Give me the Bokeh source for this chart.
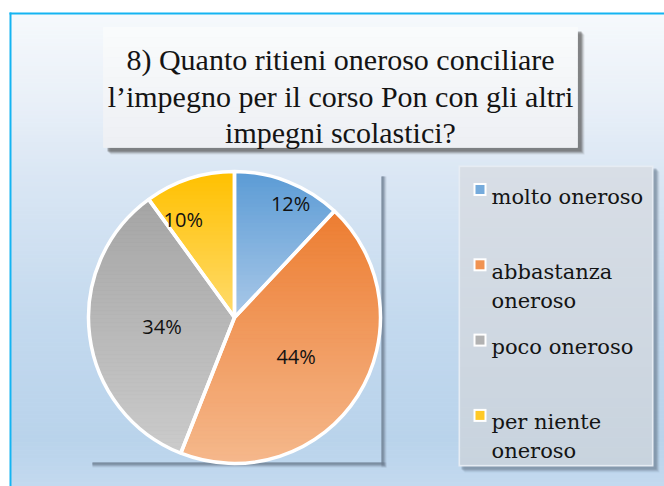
import math
import numpy as np
from bokeh.plotting import figure
from bokeh.models import Range1d, Label
from bokeh.core.properties import value
from bokeh.embed import file_html
from bokeh.resources import INLINE

# ---------------- data ----------------
categories = ["molto oneroso", "abbastanza oneroso", "poco oneroso", "per niente oneroso"]
legend_labels = ["molto oneroso", "abbastanza\noneroso", "poco oneroso", "per niente\noneroso"]
values = [12, 44, 34, 10]
title_lines = ["8) Quanto ritieni oneroso conciliare",
               "l\u2019impegno per il corso Pon con gli altri",
               "impegni scolastici?"]

# ---------------- styles ----------------
top_colors = ["#5b9bd5", "#ed7d31", "#a5a5a5", "#ffc000"]
bottom_colors = ["#a9c8e8", "#f5b88c", "#cbcbcb", "#ffdb6d"]
label_r_frac = [0.87, 0.5, 0.5, 0.76]
label_angle_shift_deg = [-4.6, 0.0, 0.0, 9.5]

W, H = 664, 486


def X(px):
    return px


def Y(py):
    return H - py


def hex2rgb(h):
    h = h.lstrip("#")
    return tuple(int(h[i:i + 2], 16) for i in (0, 2, 4))


def mix(c1, c2, t):
    a, b = hex2rgb(c1), hex2rgb(c2)
    return "#%02x%02x%02x" % tuple(int(round(a[i] + (b[i] - a[i]) * t)) for i in range(3))


def interp_stops(stops, yv):
    for (y0, c0), (y1, c1) in zip(stops[:-1], stops[1:]):
        if y0 <= yv <= y1:
            return mix(c0, c1, (yv - y0) / (y1 - y0))
    return stops[-1][1] if yv > stops[-1][0] else stops[0][1]


p = figure(width=W, height=H, x_range=Range1d(0, W), y_range=Range1d(0, H),
           output_backend="svg", toolbar_location=None, min_border=0,
           x_axis_type=None, y_axis_type=None)
p.outline_line_color = None

# ---------------- background gradient ----------------
bg_stops = [(12, "#f6f9fc"), (100, "#e9f0f8"), (170, "#dbe7f4"), (320, "#c3d9ee"),
            (440, "#b9d3eb"), (486, "#c3d9ef")]
ys = np.arange(14, 486, 4)
bgc = [interp_stops(bg_stops, v + 2) for v in ys]
p.quad(left=X(11), right=W, top=[Y(v) for v in ys], bottom=[Y(v + 4) for v in ys],
       fill_color=bgc, line_color=bgc, line_width=0.8)

# blue frame
p.quad(left=[X(9), X(9)], right=[X(11), W], top=[Y(12), Y(12)], bottom=[0, Y(14)],
       fill_color="#14b4f2", line_color=None)

# ---------------- title box ----------------
tb = dict(l=103, r=577, t=27, b=147)
offs = [7, 6, 5, 4]
p.quad(left=[X(tb["l"] + o) for o in offs], right=[X(tb["r"] + o) for o in offs],
       top=[Y(tb["t"] + o) for o in offs], bottom=[Y(tb["b"] + o) for o in offs],
       fill_color="#5a5a5a", fill_alpha=[0.12, 0.2, 0.3, 0.45], line_color=None)
tys = np.arange(tb["t"], tb["b"], 10)
tstops = [(tb["t"], "#fafbfc"), (tb["b"], "#edf0f4")]
tbc = [interp_stops(tstops, v + 5) for v in tys]
p.quad(left=X(tb["l"]), right=X(tb["r"]), top=[Y(v) for v in tys], bottom=[Y(v + 10) for v in tys],
       fill_color=tbc, line_color=tbc, line_width=0.8)
title_base = [59, 95.5, 132]
for line, b in zip(title_lines, title_base):
    p.add_layout(Label(x=X((tb["l"] + tb["r"]) / 2), y=Y(b), text=line,
                       text_font="Liberation Serif", text_font_size="30px", text_align="center",
                       text_baseline="alphabetic", text_color="#141414"))

# ---------------- plot area shadow ----------------
pa = dict(l=88, r=381, t=172, b=462)
ws = [5, 4, 3, 2]
al = [0.15, 0.25, 0.4, 0.55]
p.quad(left=[X(pa["r"])] * 4 + [X(pa["l"] + 4)] * 4,
       right=[X(pa["r"] + w) for w in ws] * 2,
       top=[Y(pa["t"] + 4)] * 4 + [Y(pa["b"])] * 4,
       bottom=[Y(pa["b"] + w) for w in ws] * 2,
       fill_color="#6f7f92", fill_alpha=al * 2, line_color=None)

# ---------------- pie ----------------
cx, cy, R = X(234), Y(317), 146.0
total = float(sum(values))
fracs = [v / total for v in values]
cum = np.concatenate([[0.0], np.cumsum(fracs)])
start_ang = [math.pi / 2 - 2 * math.pi * cum[i + 1] for i in range(len(values))]
end_ang = [math.pi / 2 - 2 * math.pi * cum[i] for i in range(len(values))]

p.wedge(x=cx, y=cy, radius=R, start_angle=start_ang, end_angle=end_ang,
        fill_color=top_colors, line_color=None)


def clip(poly, y0, keep_above):
    out = []
    n = len(poly)
    for i in range(n):
        a, b = poly[i], poly[(i + 1) % n]
        ina = a[1] >= y0 if keep_above else a[1] <= y0
        inb = b[1] >= y0 if keep_above else b[1] <= y0
        if ina:
            out.append(a)
        if ina != inb:
            t = (y0 - a[1]) / (b[1] - a[1])
            out.append((a[0] + t * (b[0] - a[0]), y0))
    return out


band_xs, band_ys, band_cols = [], [], []
for i in range(len(values)):
    th = np.linspace(end_ang[i], start_ang[i], 90)
    poly = [(cx, cy)] + [(cx + R * math.cos(t), cy + R * math.sin(t)) for t in th]
    ymin = min(q[1] for q in poly)
    ymax = max(q[1] for q in poly)
    yb = ymax
    step = 4.0
    while yb > ymin:
        y_lo = max(yb - step, ymin)
        piece = clip(clip(poly, y_lo, True), yb, False)
        if len(piece) >= 3:
            t = (ymax - (yb + y_lo) / 2) / (ymax - ymin)
            col = mix(top_colors[i], bottom_colors[i], t)
            band_xs.append([round(q[0], 1) for q in piece])
            band_ys.append([round(q[1], 1) for q in piece])
            band_cols.append(col)
        yb = y_lo
p.patches(xs=band_xs, ys=band_ys, fill_color=band_cols, line_color=band_cols, line_width=0.8)

# white separators
p.wedge(x=cx, y=cy, radius=R, start_angle=start_ang, end_angle=end_ang,
        fill_alpha=0, line_color="white", line_width=3.5)

# percentage labels
lx, ly, lt = [], [], []
for i, v in enumerate(values):
    mid = (start_ang[i] + end_ang[i]) / 2 + math.radians(label_angle_shift_deg[i])
    lx.append(cx + R * label_r_frac[i] * math.cos(mid))
    ly.append(cy + R * label_r_frac[i] * math.sin(mid))
    lt.append(f"{v}%")
p.text(x=lx, y=ly, text=lt, text_font=value("Open Sans"), text_font_size="20px",
       text_align="center", text_baseline="middle", text_color="#111111")

# ---------------- legend ----------------
lg = dict(l=458, r=653, t=165, b=466)
offs = [6, 5, 4, 3]
p.quad(left=[X(lg["l"] + o) for o in offs], right=[X(lg["r"] + o) for o in offs],
       top=[Y(lg["t"] + o) for o in offs], bottom=[Y(lg["b"] + o) for o in offs],
       fill_color="#6f8296", fill_alpha=[0.12, 0.2, 0.3, 0.4], line_color=None)
p.quad(left=X(lg["l"]), right=X(lg["r"]), top=Y(lg["t"]), bottom=Y(lg["b"]),
       fill_color="#e6ecf3", line_color=None)
lys = np.arange(lg["t"] + 2, lg["b"] - 2, 10)
lstops = [(lg["t"], "#d8dee6"), (lg["b"], "#c8d3de")]
lgc = [interp_stops(lstops, v + 5) for v in lys]
p.quad(left=X(lg["l"] + 2), right=X(lg["r"] - 2), top=[Y(v) for v in lys],
       bottom=[Y(min(v + 10, lg["b"] - 2)) for v in lys],
       fill_color=lgc, line_color=lgc, line_width=0.8)

slot_first, slot_step = 189.0, 75.3
sw_cy = [slot_first + i * slot_step for i in range(len(values))]
swatch_mid = [mix(top_colors[i], bottom_colors[i], 0.35) for i in range(len(values))]
p.quad(left=X(473), right=X(486), top=[Y(c - 6.5) for c in sw_cy], bottom=[Y(c + 6.5) for c in sw_cy],
       fill_color="white", line_color=None)
p.quad(left=X(475), right=X(484), top=[Y(c - 4.5) for c in sw_cy], bottom=[Y(c + 4.5) for c in sw_cy],
       fill_color=swatch_mid, line_color=None)
tx, ty, tt = [], [], []
for c, lab in zip(sw_cy, legend_labels):
    for k, line in enumerate(lab.split("\n")):
        tx.append(X(491))
        ty.append(Y(c + 7 + 29 * k))
        tt.append(line)
p.text(x=tx, y=ty, text=tt, text_font=value("DejaVu Serif"), text_font_size="21px",
       text_align="left", text_baseline="alphabetic", text_color="#141414")

open("out.html", "w").write(file_html(p, INLINE))
